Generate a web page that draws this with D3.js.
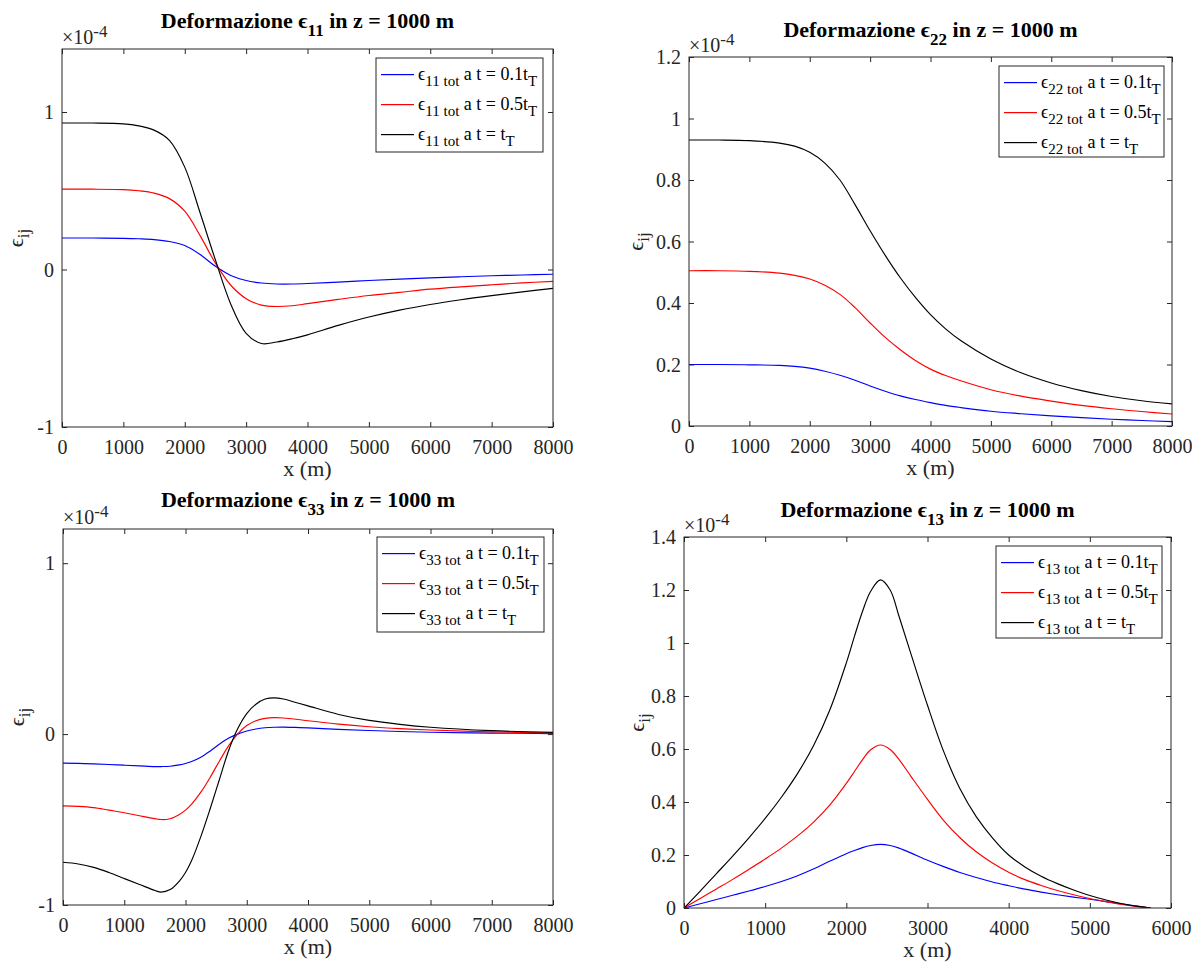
<!DOCTYPE html>
<html>
<head>
<meta charset="utf-8">
<script src="https://cdn.jsdelivr.net/npm/d3@7"></script>
<style>
  body { margin: 0; background: #fff; }
  svg { display: block; }
  svg text { font-family: "Liberation Serif", "Times New Roman", "DejaVu Serif", serif; }
</style>
</head>
<body>
<svg id="chart" width="1192" height="963" font-family="Liberation Serif, Times New Roman, serif"></svg>
<script>
// Strain values are expressed in units of 1e-4 (see the ×10^-4 axis multiplier).

// ---- ε11 ----
const x11 = [0, 500, 1000, 1250, 1500, 1750, 2000, 2250, 2500, 2750, 3000, 3250, 3500, 3750, 4000, 4500, 5000, 5500, 6000, 6500, 7000, 7500, 8000];
const e11_t01 = [0.2, 0.2, 0.198, 0.195, 0.19, 0.178, 0.152, 0.095, 0.02, -0.038, -0.07, -0.086, -0.092, -0.092, -0.089, -0.08, -0.07, -0.061, -0.053, -0.046, -0.04, -0.035, -0.03];
const e11_t05 = [0.51, 0.51, 0.507, 0.5, 0.485, 0.45, 0.37, 0.215, 0.04, -0.1, -0.185, -0.226, -0.235, -0.23, -0.217, -0.19, -0.165, -0.145, -0.125, -0.11, -0.097, -0.085, -0.075];
const e11_t1 = [0.93, 0.93, 0.925, 0.912, 0.885, 0.82, 0.65, 0.36, 0.06, -0.22, -0.405, -0.47, -0.46, -0.44, -0.415, -0.355, -0.302, -0.258, -0.222, -0.192, -0.166, -0.142, -0.12];

// ---- ε22 ----
const x22 = [0, 500, 1000, 1500, 1750, 2000, 2250, 2500, 2750, 3000, 3250, 3500, 3750, 4000, 4250, 4500, 5000, 5500, 6000, 6500, 7000, 7500, 8000];
const e22_t01 = [0.2, 0.2, 0.199, 0.197, 0.194, 0.188, 0.178, 0.165, 0.149, 0.13, 0.113, 0.098, 0.086, 0.076, 0.067, 0.06, 0.048, 0.04, 0.033, 0.027, 0.022, 0.018, 0.014];
const e22_t05 = [0.505, 0.505, 0.503, 0.497, 0.49, 0.478, 0.458, 0.428, 0.385, 0.335, 0.288, 0.248, 0.213, 0.185, 0.164, 0.147, 0.118, 0.097, 0.081, 0.067, 0.056, 0.047, 0.039];
const e22_t1 = [0.93, 0.93, 0.928, 0.92, 0.91, 0.89, 0.855, 0.8, 0.72, 0.635, 0.555, 0.482, 0.418, 0.362, 0.316, 0.278, 0.218, 0.173, 0.14, 0.115, 0.096, 0.082, 0.072];

// ---- ε33 ----
const x33 = [0, 250, 500, 750, 1000, 1250, 1500, 1600, 1750, 1900, 2000, 2100, 2250, 2400, 2550, 2700, 2850, 3000, 3150, 3300, 3450, 3600, 3800, 4000, 4500, 5000, 5500, 6000, 7000, 8000];
const e33_t01 = [-0.17, -0.171, -0.174, -0.178, -0.182, -0.186, -0.19, -0.19, -0.188, -0.18, -0.172, -0.16, -0.135, -0.1, -0.06, -0.025, 0.0, 0.018, 0.03, 0.037, 0.04, 0.041, 0.039, 0.036, 0.028, 0.021, 0.015, 0.011, 0.006, 0.003];
const e33_t05 = [-0.42, -0.423, -0.43, -0.445, -0.46, -0.478, -0.495, -0.5, -0.495, -0.47, -0.445, -0.41, -0.34, -0.255, -0.16, -0.07, 0.0, 0.05, 0.078, 0.092, 0.096, 0.094, 0.087, 0.078, 0.058, 0.043, 0.032, 0.024, 0.013, 0.007];
const e33_t1 = [-0.75, -0.76, -0.78, -0.81, -0.845, -0.88, -0.915, -0.925, -0.91, -0.86, -0.81, -0.74, -0.6, -0.44, -0.27, -0.1, 0.03, 0.12, 0.175, 0.205, 0.212, 0.205, 0.185, 0.165, 0.115, 0.08, 0.057, 0.04, 0.02, 0.01];

// ---- ε13 ----
const x13 = [0, 200, 400, 600, 800, 1000, 1200, 1400, 1600, 1800, 2000, 2100, 2200, 2300, 2420, 2540, 2650, 2800, 3000, 3200, 3400, 3600, 3800, 4000, 4200, 4400, 4600, 4800, 5000, 5200, 5400, 5600, 5750];
const e13_t01 = [0, 0.016, 0.032, 0.048, 0.064, 0.081, 0.1, 0.122, 0.148, 0.177, 0.205, 0.217, 0.228, 0.236, 0.24, 0.236, 0.226, 0.207, 0.18, 0.156, 0.134, 0.115, 0.098, 0.084, 0.071, 0.06, 0.05, 0.041, 0.033, 0.024, 0.015, 0.006, 0];
const e13_t05 = [0, 0.036, 0.072, 0.108, 0.146, 0.185, 0.226, 0.272, 0.325, 0.39, 0.47, 0.515, 0.56, 0.597, 0.615, 0.598, 0.56, 0.495, 0.41, 0.33, 0.265, 0.212, 0.17, 0.135, 0.107, 0.085, 0.066, 0.05, 0.036, 0.024, 0.013, 0.005, 0];
const e13_t1 = [0, 0.064, 0.13, 0.196, 0.265, 0.338, 0.418, 0.508, 0.615, 0.75, 0.925, 1.025, 1.12, 1.195, 1.238, 1.2, 1.1, 0.955, 0.765, 0.59, 0.45, 0.345, 0.265, 0.2, 0.155, 0.12, 0.092, 0.068, 0.047, 0.03, 0.016, 0.006, 0];

// ---- axes ticks ----
const xTicks8000 = [0, 1000, 2000, 3000, 4000, 5000, 6000, 7000, 8000];
const xTicks6000 = [0, 1000, 2000, 3000, 4000, 5000, 6000];
const yTicksSigned = [-1, 0, 1];
const yTicks22 = [0, 0.2, 0.4, 0.6, 0.8, 1, 1.2];
const yTicks13 = [0, 0.2, 0.4, 0.6, 0.8, 1, 1.2, 1.4];

// ---- legend ----
const seriesColors = ["#0000ff", "#ff0000", "#000000"];
const legendTimes = ["0.1t", "0.5t", "t"];

const AX = "#262626";
const SERIF = "Liberation Serif, Times New Roman, serif";
const FONT_TICK = 20, FONT_LABEL = 22, FONT_TITLE = 22, FONT_LEGEND = 18;

const panels = [
  { comp: "11", xs: x11, ys: [e11_t01, e11_t05, e11_t1], xDomain: [0, 8000], yDomain: [-1, 1.4],
    xTicks: xTicks8000, yTicks: yTicksSigned,
    box: { l: 62, r: 553, t: 49, b: 427 }, titleY: 28, ylabelX: 23,
    legend: { l: 376, r: 543, t: 58, h: 94 } },
  { comp: "22", xs: x22, ys: [e22_t01, e22_t05, e22_t1], xDomain: [0, 8000], yDomain: [0, 1.2],
    xTicks: xTicks8000, yTicks: yTicks22,
    box: { l: 689, r: 1172, t: 57, b: 426 }, titleY: 37, ylabelX: 643,
    legend: { l: 999, r: 1164, t: 66, h: 91 } },
  { comp: "33", xs: x33, ys: [e33_t01, e33_t05, e33_t1], xDomain: [0, 8000], yDomain: [-1, 1.2],
    xTicks: xTicks8000, yTicks: yTicksSigned,
    box: { l: 63, r: 553, t: 529, b: 905 }, titleY: 507, ylabelX: 24,
    legend: { l: 377, r: 544, t: 537, h: 95 } },
  { comp: "13", xs: x13, ys: [e13_t01, e13_t05, e13_t1], xDomain: [0, 6000], yDomain: [0, 1.4],
    xTicks: xTicks6000, yTicks: yTicks13,
    box: { l: 684, r: 1171, t: 537, b: 908 }, titleY: 517, ylabelX: 644,
    legend: { l: 996, r: 1162, t: 546, h: 92 } }
];

const svg = d3.select("#chart");
svg.append("rect").attr("width", 1192).attr("height", 963).attr("fill", "#fff");
const defs = svg.append("defs");
const panelLayer = svg.append("g");
const legendLayer = svg.append("g");

const fmtY = d => String(+d.toFixed(1));

panels.forEach(p => {
  const b = p.box;
  const x = d3.scaleLinear().domain(p.xDomain).range([b.l, b.r]);
  const y = d3.scaleLinear().domain(p.yDomain).range([b.b, b.t]);
  const g = panelLayer.append("g").attr("class", "panel-" + p.comp);

  const clipId = "plotclip-" + p.comp;
  defs.append("clipPath").attr("id", clipId)
    .append("rect").attr("x", b.l).attr("y", b.t).attr("width", b.r - b.l).attr("height", b.b - b.t);

  // data lines
  const line = d3.line().x(d => x(d[0])).y(d => y(d[1])).curve(d3.curveCatmullRom.alpha(0.5));
  const lines = g.append("g").attr("clip-path", `url(#${clipId})`);
  p.ys.forEach((vals, k) => {
    lines.append("path")
      .datum(p.xs.map((xv, j) => [xv, vals[j]]))
      .attr("fill", "none")
      .attr("stroke", seriesColors[k])
      .attr("stroke-width", 1.15)
      .attr("d", line);
  });

  // axes with inward ticks on all four sides
  const styleAxis = sel => {
    sel.attr("color", AX).attr("font-family", SERIF).attr("font-size", FONT_TICK);
    sel.select(".domain").remove();
    sel.selectAll(".tick line").attr("stroke-width", 1);
  };
  const gB = g.append("g").attr("transform", `translate(0,${b.b})`)
    .call(d3.axisBottom(x).tickValues(p.xTicks).tickSizeInner(-5).tickSizeOuter(0).tickFormat(d3.format("d")))
    .call(styleAxis);
  gB.selectAll("text").attr("dy", null).attr("y", 27).attr("fill", AX);

  g.append("g").attr("transform", `translate(0,${b.t})`)
    .call(d3.axisTop(x).tickValues(p.xTicks).tickSizeInner(-5).tickSizeOuter(0).tickFormat(""))
    .call(styleAxis);

  const gL = g.append("g").attr("transform", `translate(${b.l},0)`)
    .call(d3.axisLeft(y).tickValues(p.yTicks).tickSizeInner(-5).tickSizeOuter(0).tickPadding(8).tickFormat(fmtY))
    .call(styleAxis);
  gL.selectAll("text").attr("fill", AX).attr("dy", "0.33em");

  g.append("g").attr("transform", `translate(${b.r},0)`)
    .call(d3.axisRight(y).tickValues(p.yTicks).tickSizeInner(-5).tickSizeOuter(0).tickFormat(""))
    .call(styleAxis);

  // plot box
  g.append("rect").attr("x", b.l).attr("y", b.t).attr("width", b.r - b.l).attr("height", b.b - b.t)
    .attr("fill", "none").attr("stroke", AX).attr("stroke-width", 1);

  // exponent multiplier
  const mult = g.append("text").attr("x", b.l).attr("y", b.t - 5).attr("font-size", FONT_TICK).attr("fill", AX);
  mult.append("tspan").text("×10");
  mult.append("tspan").attr("dy", -7).attr("font-size", 17).text("-4");

  // title
  const cx = (b.l + b.r) / 2;
  const title = g.append("text").attr("x", cx).attr("y", p.titleY).attr("text-anchor", "middle")
    .attr("font-size", FONT_TITLE).attr("font-weight", "bold").attr("fill", "#000");
  title.append("tspan").text("Deformazione ϵ");
  title.append("tspan").attr("dy", 8).attr("font-size", 17).text(p.comp);
  title.append("tspan").attr("dy", -8).text(" in z = 1000 m");

  // x label
  g.append("text").attr("x", cx).attr("y", b.b + 49).attr("text-anchor", "middle")
    .attr("font-size", FONT_LABEL).attr("fill", AX).text("x (m)");

  // y label
  const cy = (b.t + b.b) / 2;
  const yl = g.append("text").attr("transform", `translate(${p.ylabelX},${cy}) rotate(-90)`)
    .attr("text-anchor", "middle").attr("font-size", FONT_LABEL).attr("fill", AX);
  yl.append("tspan").text("ϵ");
  yl.append("tspan").attr("dy", 6).attr("font-size", 17).text("ij");
});

// legends, drawn on top of all panels
panels.forEach(p => {
  const L = p.legend;
  const lg = legendLayer.append("g").attr("class", "legend-" + p.comp);
  lg.append("rect").attr("x", L.l).attr("y", L.t).attr("width", L.r - L.l).attr("height", L.h)
    .attr("fill", "#fff").attr("stroke", AX).attr("stroke-width", 1);
  legendTimes.forEach((tl, k) => {
    const ry = Math.round(L.t + 16 + k * 30);
    // sample swatch as a thin filled bar
    lg.append("rect")
      .attr("x", L.l + 5).attr("y", ry).attr("width", 33).attr("height", 1.2)
      .attr("fill", seriesColors[k]);
    const t = lg.append("text").attr("x", L.l + 42).attr("y", ry + 5.5).attr("font-size", FONT_LEGEND).attr("fill", "#000");
    t.append("tspan").text("ϵ");
    t.append("tspan").attr("dy", 6).attr("font-size", 15).text(p.comp + " tot");
    t.append("tspan").attr("dy", -6).text(" a t = " + tl);
    t.append("tspan").attr("dy", 6).attr("font-size", 15).text("T");
  });
});
</script>
</body>
</html>
